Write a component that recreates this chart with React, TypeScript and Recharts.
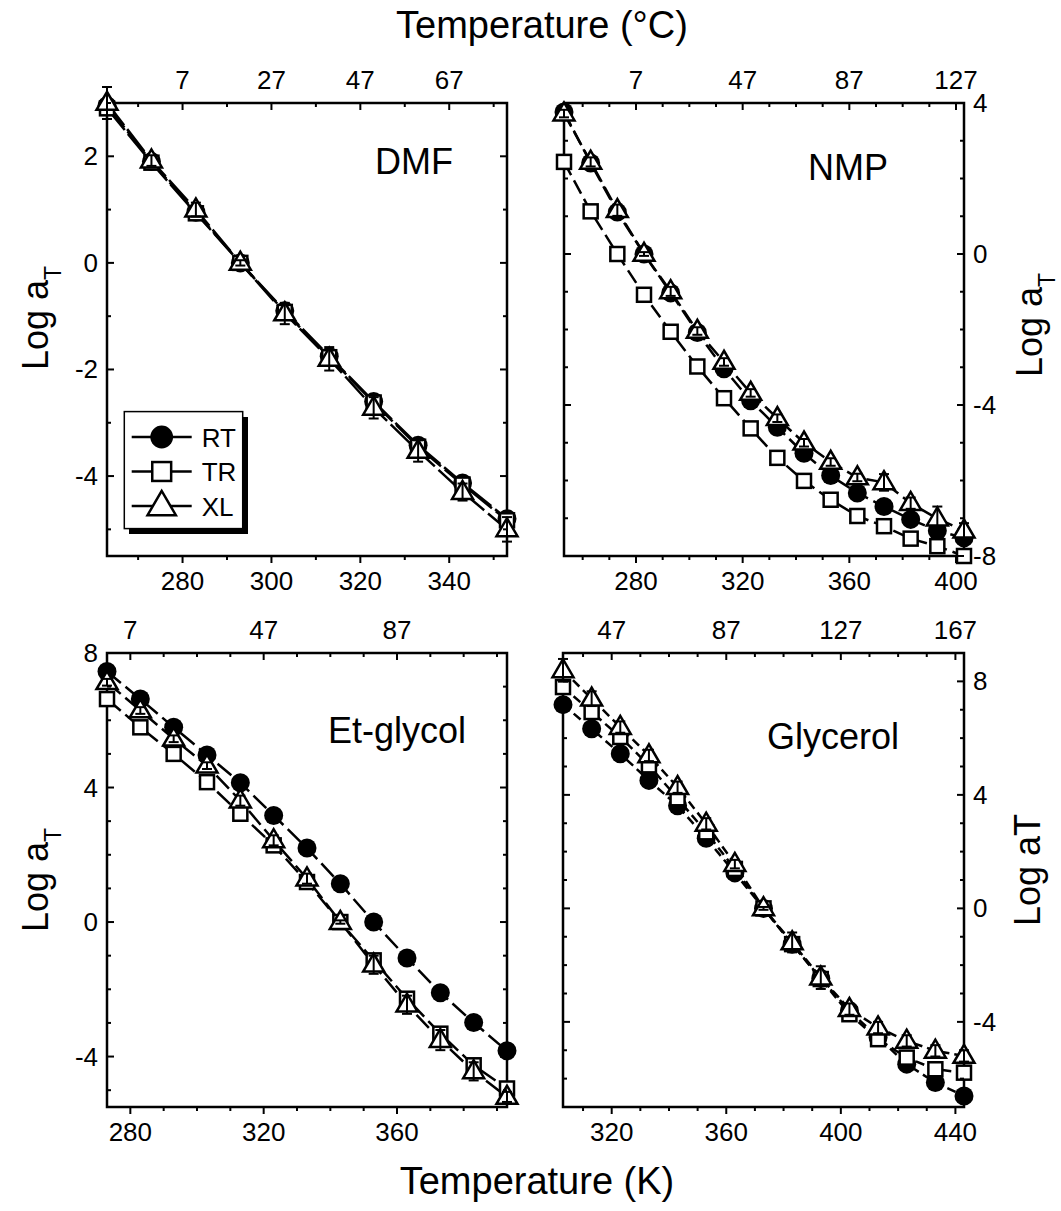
import { LineChart, Line, XAxis, YAxis, ReferenceArea } from 'recharts'

const FONT = '"Liberation Sans", Arial, sans-serif'

// ---- DMF ----
const dmfT = [263, 273, 283, 293, 303, 313, 323, 333, 343, 353]
const dmfRT = [2.95, 1.9, 0.95, 0, -0.9, -1.75, -2.6, -3.42, -4.13, -4.8]
const dmfTR = [2.9, 1.88, 0.93, 0, -0.92, -1.77, -2.62, -3.45, -4.16, -4.83]
const dmfXL = [3.0, 1.92, 1.0, 0, -0.95, -1.8, -2.72, -3.53, -4.3, -5.0]
const dmfXLerr = [0.3, 0.1, 0.13, 0.05, 0.2, 0.22, 0.2, 0.2, 0.16, 0.23]

// ---- NMP ----
const nmpT = [253, 263, 273, 283, 293, 303, 313, 323, 333, 343, 353, 363, 373, 383, 393, 403]
const nmpRT = [3.76, 2.41, 1.11, 0, -1.03, -2.08, -3.04, -3.89, -4.59, -5.28, -5.87, -6.33, -6.69, -7.03, -7.33, -7.52]
const nmpTR = [2.44, 1.13, 0, -1.08, -2.06, -2.98, -3.82, -4.62, -5.4, -6.01, -6.51, -6.94, -7.21, -7.54, -7.74, -8.0]
const nmpXL = [3.72, 2.44, 1.16, 0, -0.99, -2.04, -2.86, -3.68, -4.35, -5.0, -5.51, -5.92, -6.05, -6.6, -7.01, -7.33]
const nmpXLerr = [0.1, 0.12, 0.15, 0.05, 0.12, 0.1, 0.1, 0.1, 0.1, 0.1, 0.1, 0.1, 0.22, 0.15, 0.32, 0.2]

// ---- Et-glycol ----
const egT = [273, 283, 293, 303, 313, 323, 333, 343, 353, 363, 373, 383, 393]
const egRT = [7.45, 6.63, 5.79, 4.97, 4.14, 3.17, 2.2, 1.14, 0, -1.07, -2.1, -2.99, -3.83]
const egTR = [6.63, 5.79, 5.0, 4.16, 3.22, 2.28, 1.19, 0, -1.14, -2.28, -3.32, -4.26, -4.95]
const egXL = [7.13, 6.29, 5.45, 4.65, 3.61, 2.43, 1.29, 0, -1.27, -2.46, -3.51, -4.44, -5.2]
const egXLerr = [0.1, 0.1, 0.1, 0.1, 0.15, 0.15, 0.15, 0.05, 0.27, 0.27, 0.3, 0.27, 0.15]

// ---- Glycerol ----
const glT = [303, 313, 323, 333, 343, 353, 363, 373, 383, 393, 403, 413, 423, 433, 443]
const glRT = [7.18, 6.33, 5.45, 4.51, 3.62, 2.47, 1.25, 0, -1.26, -2.47, -3.61, -4.55, -5.49, -6.14, -6.61]
const glTR = [7.8, 6.92, 6.04, 5.04, 3.88, 2.68, 1.39, 0, -1.26, -2.49, -3.73, -4.61, -5.26, -5.67, -5.79]
const glXL = [8.39, 7.39, 6.39, 5.39, 4.27, 2.98, 1.56, 0, -1.2, -2.44, -3.55, -4.2, -4.67, -5.02, -5.2]
const glXLerr = [0.4, 0.26, 0.2, 0.2, 0.2, 0.2, 0.15, 0.05, 0.35, 0.4, 0.2, 0.2, 0.2, 0.2, 0.2]

// ---- ticks ----
const dmfXTicks = [270, 280, 290, 300, 310, 320, 330, 340, 350]
const dmfXMajor = [280, 300, 320, 340]
const dmfYTicks = [-5, -4, -3, -2, -1, 0, 1, 2, 3]
const dmfYMajor = [-4, -2, 0, 2]

const nmpXTicks = [260, 270, 280, 290, 300, 310, 320, 330, 340, 350, 360, 370, 380, 390, 400]
const nmpXMajor = [280, 320, 360, 400]
const nmpYTicks = [-8, -7, -6, -5, -4, -3, -2, -1, 0, 1, 2, 3, 4]
const nmpYMajor = [-8, -4, 0, 4]

const egXTicks = [280, 290, 300, 310, 320, 330, 340, 350, 360, 370, 380, 390]
const egXMajor = [280, 320, 360]
const egYTicks = [-5, -4, -3, -2, -1, 0, 1, 2, 3, 4, 5, 6, 7, 8]
const egYMajor = [-4, 0, 4, 8]

const glXTicks = [310, 320, 330, 340, 350, 360, 370, 380, 390, 400, 410, 420, 430, 440]
const glXMajor = [320, 360, 400, 440]
const glYTicks = [-7, -6, -5, -4, -3, -2, -1, 0, 1, 2, 3, 4, 5, 6, 7, 8, 9]
const glYMajor = [-4, 0, 4, 8]

const seriesNames = ['RT', 'TR', 'XL']

const rows = (t: number[], rt: number[], tr: number[], xl: number[], xle: number[]) =>
  t.map((T, i) => ({ T, RT: rt[i], TR: tr[i], XL: xl[i], XLe: xle[i] }))

function Mark({ kind, cx, cy, s = 1 }: { kind: string; cx: number; cy: number; s?: number }) {
  if (kind === 'RT') return <circle cx={cx} cy={cy} r={9.5 * s} fill="#000" />
  if (kind === 'TR') {
    const a = 7 * s
    return <rect x={cx - a} y={cy - a} width={2 * a} height={2 * a} fill="#fff" stroke="#000" strokeWidth={2.5} />
  }
  const w = 10.5 * s, h = 18 * s
  return (
    <polygon
      points={`${cx},${cy - h * 0.62} ${cx - w},${cy + h * 0.38} ${cx + w},${cy + h * 0.38}`}
      fill="#fff" stroke="#000" strokeWidth={2.5}
    />
  )
}

// marker plus its vertical error bar (err given in data units, k = px per unit)
function MarkErr({ kind, cx, cy, err, k }: { kind: string; cx: number; cy: number; err: number; k: number }) {
  const d = err * k
  return (
    <g>
      <Mark kind={kind} cx={cx} cy={cy} />
      {d > 1 && (
        <g stroke="#000" strokeWidth={2}>
          <line x1={cx} x2={cx} y1={cy - d} y2={cy + d} />
          <line x1={cx - 5} x2={cx + 5} y1={cy - d} y2={cy - d} />
          <line x1={cx - 5} x2={cx + 5} y1={cy + d} y2={cy + d} />
        </g>
      )}
    </g>
  )
}

const txt = { fontFamily: FONT, fontSize: 26, fill: '#000' }

// bottom axis renderer also draws the mirrored top ticks and the °C labels
const xTickRenderer = (h: number, major: number[]) => (p: any) => {
  const v = p.payload.value
  const isMaj = major.includes(v)
  const len = isMaj ? 7 : 4
  const x = p.x
  const yb = 50 + h
  return (
    <g>
      <line x1={x} x2={x} y1={yb} y2={yb + len} stroke="#000" strokeWidth={2} />
      <line x1={x} x2={x} y1={50} y2={50 + len} stroke="#000" strokeWidth={2} />
      {isMaj && <text x={x} y={yb + 34} textAnchor="middle" {...txt}>{v}</text>}
      {isMaj && <text x={x} y={36} textAnchor="middle" {...txt}>{v - 273}</text>}
    </g>
  )
}

// left axis renderer also draws the mirrored right ticks
const yTickRenderer = (w: number, major: number[], side: 'left' | 'right') => (p: any) => {
  const v = p.payload.value
  const isMaj = major.includes(v)
  const len = isMaj ? 7 : 4
  const y = p.y
  const xr = 70 + w
  return (
    <g>
      <line x1={70} x2={70 + len} y1={y} y2={y} stroke="#000" strokeWidth={2} />
      <line x1={xr} x2={xr - len} y1={y} y2={y} stroke="#000" strokeWidth={2} />
      {isMaj && side === 'left' && <text x={61} y={y + 9} textAnchor="end" {...txt}>{v}</text>}
      {isMaj && side === 'right' && <text x={xr + 9} y={y + 9} textAnchor="start" {...txt}>{v}</text>}
    </g>
  )
}

interface PanelProps {
  x: number; y: number; w: number; h: number
  data: any[]
  xDomain: [number, number]; yDomain: [number, number]
  xTicks: number[]; xMajor: number[]; yTicks: number[]; yMajor: number[]
  labelSide: 'left' | 'right'
  dash: string
}

function Panel({ x, y, w, h, data, xDomain, yDomain, xTicks, xMajor, yTicks, yMajor, labelSide, dash }: PanelProps) {
  const W = w + 140, H = h + 100
  const k = h / (yDomain[1] - yDomain[0])
  return (
    <div style={{ position: 'absolute', left: x - 70, top: y - 50 }}>
      <LineChart width={W} height={H} data={data} margin={{ top: 50, right: 70, bottom: 0, left: 0 }}>
        <XAxis type="number" dataKey="T" domain={xDomain} ticks={xTicks} interval={0}
          height={50} tickLine={false} axisLine={false} tick={xTickRenderer(h, xMajor)} />
        <YAxis type="number" domain={yDomain} ticks={yTicks} interval={0}
          width={70} tickLine={false} axisLine={false} tick={yTickRenderer(w, yMajor, labelSide)} />
        <ReferenceArea x1={xDomain[0]} x2={xDomain[1]} y1={yDomain[0]} y2={yDomain[1]}
          fill="none" fillOpacity={0} stroke="#000" strokeWidth={2.5} />
        {seriesNames.map(s => (
          <Line key={s} type="linear" dataKey={s} stroke="#000" strokeWidth={2.5}
            strokeDasharray={dash} isAnimationActive={false} activeDot={false}
            dot={(p: any) =>
              s === 'XL'
                ? <MarkErr key={`${s}${p.index}`} kind={s} cx={p.cx} cy={p.cy} err={p.payload.XLe} k={k} />
                : <Mark key={`${s}${p.index}`} kind={s} cx={p.cx} cy={p.cy} />} />
        ))}
      </LineChart>
    </div>
  )
}

const big = { fontFamily: FONT, fontSize: 36, fill: '#000' }

function YLabel({ x, y, subscript = true }: { x: number; y: number; subscript?: boolean }) {
  return (
    <text transform={`translate(${x},${y}) rotate(-90)`} textAnchor="middle" {...big}>
      Log a
      {subscript ? <tspan dy={13} fontSize={23}>T</tspan> : <tspan>T</tspan>}
    </text>
  )
}

export default function App() {
  return (
    <div style={{ position: 'absolute', left: 0, top: 0, width: 1061, height: 1211, background: '#fff', overflow: 'hidden' }}>
      <Panel x={106.7} y={103.4} w={400} h={453} data={rows(dmfT, dmfRT, dmfTR, dmfXL, dmfXLerr)}
        xDomain={[263, 353]} yDomain={[-5.5, 3]} xTicks={dmfXTicks} xMajor={dmfXMajor}
        yTicks={dmfYTicks} yMajor={dmfYMajor} labelSide="left" dash="28 5" />
      <Panel x={564} y={103.4} w={400} h={453} data={rows(nmpT, nmpRT, nmpTR, nmpXL, nmpXLerr)}
        xDomain={[253, 403]} yDomain={[-8, 4]} xTicks={nmpXTicks} xMajor={nmpXMajor}
        yTicks={nmpYTicks} yMajor={nmpYMajor} labelSide="right" dash="15 6" />
      <Panel x={106.7} y={652.7} w={400} h={454} data={rows(egT, egRT, egTR, egXL, egXLerr)}
        xDomain={[273, 393]} yDomain={[-5.5, 8]} xTicks={egXTicks} xMajor={egXMajor}
        yTicks={egYTicks} yMajor={egYMajor} labelSide="left" dash="18 6" />
      <Panel x={563} y={652.7} w={401} h={454} data={rows(glT, glRT, glTR, glXL, glXLerr)}
        xDomain={[303, 443]} yDomain={[-7, 9]} xTicks={glXTicks} xMajor={glXMajor}
        yTicks={glYTicks} yMajor={glYMajor} labelSide="right" dash="9 5" />

      <svg width={1061} height={1211} style={{ position: 'absolute', left: 0, top: 0, pointerEvents: 'none' }}>
        <text x={542} y={38} textAnchor="middle" {...big} fontSize={38}>Temperature (°C)</text>
        <text x={537} y={1194} textAnchor="middle" {...big} fontSize={38}>Temperature (K)</text>

        <text x={375} y={174} {...big}>DMF</text>
        <text x={808} y={180} {...big}>NMP</text>
        <text x={328} y={743} {...big}>Et-glycol</text>
        <text x={767} y={749} {...big}>Glycerol</text>

        <YLabel x={48} y={318} />
        <YLabel x={48} y={880} />
        <YLabel x={1042} y={325} />
        <YLabel x={1040} y={870} subscript={false} />

        {/* legend */}
        <rect x={129} y={417} width={119} height={117} fill="#000" />
        <rect x={124.3} y={411.6} width={118.4} height={117} fill="#fff" stroke="#000" strokeWidth={1.5} />
        {seriesNames.map((s, i) => {
          const cy = 437 + i * 34.5
          return (
            <g key={s}>
              <line x1={131.7} x2={191.7} y1={cy} y2={cy} stroke="#000" strokeWidth={2.5} />
              <Mark kind={s} cx={161.7} cy={cy} s={s === 'RT' ? 1.2 : 1.35} />
              <text x={201.7} y={cy + 9.5} fontFamily={FONT} fontSize={26} fill="#000">{s}</text>
            </g>
          )
        })}
      </svg>
    </div>
  )
}
